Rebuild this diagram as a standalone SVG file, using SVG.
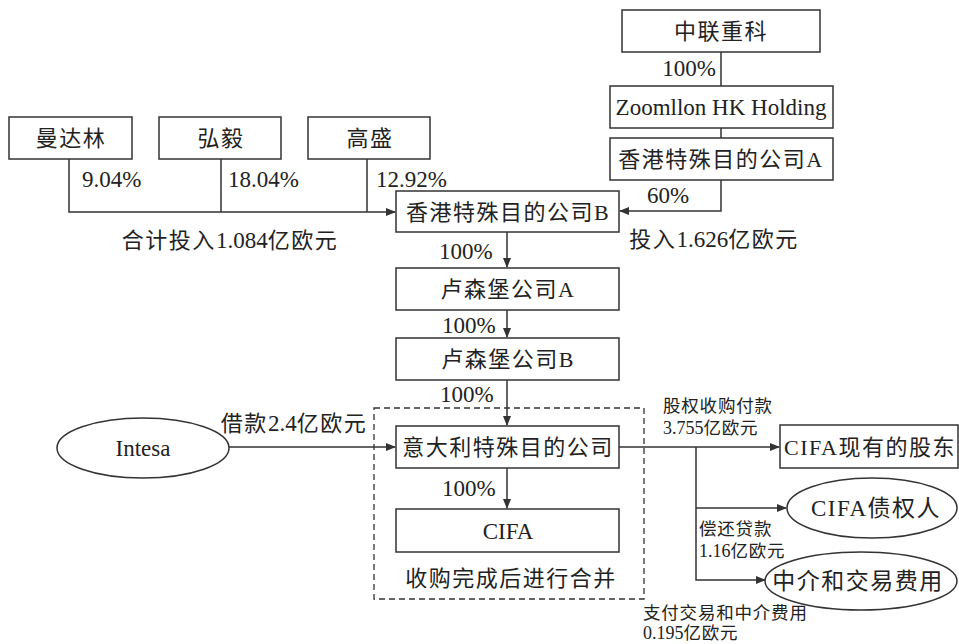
<svg xmlns="http://www.w3.org/2000/svg" width="959" height="644" viewBox="0 0 959 644">
<style>
text{font-family:"Liberation Serif","Noto Sans CJK SC",serif;fill:#222;}
.n{font-size:22px;letter-spacing:1.5px;text-anchor:middle;}
.l{font-size:23px;text-anchor:middle;}
.p{font-size:23px;}
.s{font-size:17.5px;letter-spacing:0.8px;}
.d{letter-spacing:0;font-size:23px;}
.sd{letter-spacing:0;font-size:18px;}
.box{fill:#fff;stroke:#333;stroke-width:1.5;}
.c{fill:none;stroke:#333;stroke-width:1.5;}
</style>
<defs>
<marker id="ah" markerWidth="10" markerHeight="8" refX="9" refY="4" orient="auto" markerUnits="userSpaceOnUse">
<path d="M0,0 L10,4 L0,8 Z" fill="#333"/>
</marker>
</defs>
<rect width="959" height="644" fill="#fff"/>

<g id="connectors">
<path class="c" d="M721,52 V86 M721,128 V138"/>
<path class="c" d="M721,180 V211 H620" marker-end="url(#ah)"/>
<path class="c" d="M69,159 V212 H395" marker-end="url(#ah)"/>
<path class="c" d="M221,159 V212 M367,159 V212"/>
<path class="c" d="M507,232 V267" marker-end="url(#ah)"/>
<path class="c" d="M507,310 V337" marker-end="url(#ah)"/>
<path class="c" d="M507,380 V425" marker-end="url(#ah)"/>
<path class="c" d="M507,468 V508" marker-end="url(#ah)"/>
<path class="c" d="M229,447 H395" marker-end="url(#ah)"/>
<path class="c" d="M619,447 H779" marker-end="url(#ah)"/>
<path class="c" d="M696,447 V580 H765" marker-end="url(#ah)"/>
<path class="c" d="M696,508 H786" marker-end="url(#ah)"/>
<rect x="374" y="408" width="270" height="191" fill="none" stroke="#333" stroke-width="1.3" stroke-dasharray="6,4"/>
<text class="p" x="716" y="76" text-anchor="end">100%</text>
<text class="p" x="647" y="203">60%</text>
<text class="n" x="714" y="247">投入<tspan class="d">1.626</tspan>亿欧元</text>
<text class="p" x="82" y="187">9.04%</text>
<text class="p" x="228" y="187">18.04%</text>
<text class="p" x="376" y="187">12.92%</text>
<text class="n" x="230" y="248">合计投入<tspan class="d">1.084</tspan>亿欧元</text>
<text class="p" x="439" y="259">100%</text>
<text class="p" x="442" y="333">100%</text>
<text class="p" x="440" y="402">100%</text>
<text class="p" x="442" y="496">100%</text>
<text class="n" x="511" y="586">收购完成后进行合并</text>
<text class="n" x="294" y="431">借款<tspan class="d">2.4</tspan>亿欧元</text>
<text class="s" x="663" y="412">股权收购付款</text>
<text class="s" x="663" y="434"><tspan class="sd">3.755</tspan>亿欧元</text>
<text class="s" x="699" y="535">偿还贷款</text>
<text class="s" x="699" y="557"><tspan class="sd">1.16</tspan>亿欧元</text>
<text class="s" x="643" y="619">支付交易和中介费用</text>
<text class="s" x="643" y="639"><tspan class="sd">0.195</tspan>亿欧元</text>
</g>

<g id="n-zoomlion"><rect class="box" x="622" y="10" width="198" height="42"/><text class="n" x="721" y="39">中联重科</text></g>
<g id="n-zoomllon-hk"><rect class="box" x="610" y="86" width="223" height="42"/><text class="l" x="721" y="115">Zoomllon HK Holding</text></g>
<g id="n-hk-a"><rect class="box" x="610" y="138" width="223" height="42"/><text class="n" x="721" y="167">香港特殊目的公司A</text></g>
<g id="n-mandarin"><rect class="box" x="9" y="117" width="123" height="42"/><text class="n" x="71" y="146">曼达林</text></g>
<g id="n-hony"><rect class="box" x="159" y="117" width="122" height="42"/><text class="n" x="221" y="146">弘毅</text></g>
<g id="n-gs"><rect class="box" x="308" y="117" width="122" height="42"/><text class="n" x="370" y="146">高盛</text></g>
<g id="n-hk-b"><rect class="box" x="396" y="191" width="223" height="41"/><text class="n" x="508" y="220">香港特殊目的公司B</text></g>
<g id="n-lux-a"><rect class="box" x="396" y="268" width="223" height="42"/><text class="n" x="508" y="297">卢森堡公司A</text></g>
<g id="n-lux-b"><rect class="box" x="396" y="338" width="223" height="42"/><text class="n" x="508" y="367">卢森堡公司B</text></g>
<g id="n-italy"><rect class="box" x="396" y="426" width="223" height="42"/><text class="n" x="508" y="455">意大利特殊目的公司</text></g>
<g id="n-cifa"><rect class="box" x="396" y="509" width="223" height="43"/><text class="l" x="508" y="539">CIFA</text></g>
<g id="n-intesa"><ellipse class="box" cx="143" cy="448" rx="86" ry="30"/><text class="l" x="143" y="456">Intesa</text></g>
<g id="n-shareholders"><rect class="box" x="780" y="425" width="178" height="43"/><text class="n" x="870" y="455">CIFA现有的股东</text></g>
<g id="n-creditors"><ellipse class="box" cx="872" cy="508" rx="85" ry="30"/><text class="n" x="876" y="516" style="font-size:23px">CIFA债权人</text></g>
<g id="n-fees"><ellipse class="box" cx="861" cy="581" rx="96" ry="29"/><text class="n" x="858" y="589" style="font-size:23px">中介和交易费用</text></g>
</svg>
